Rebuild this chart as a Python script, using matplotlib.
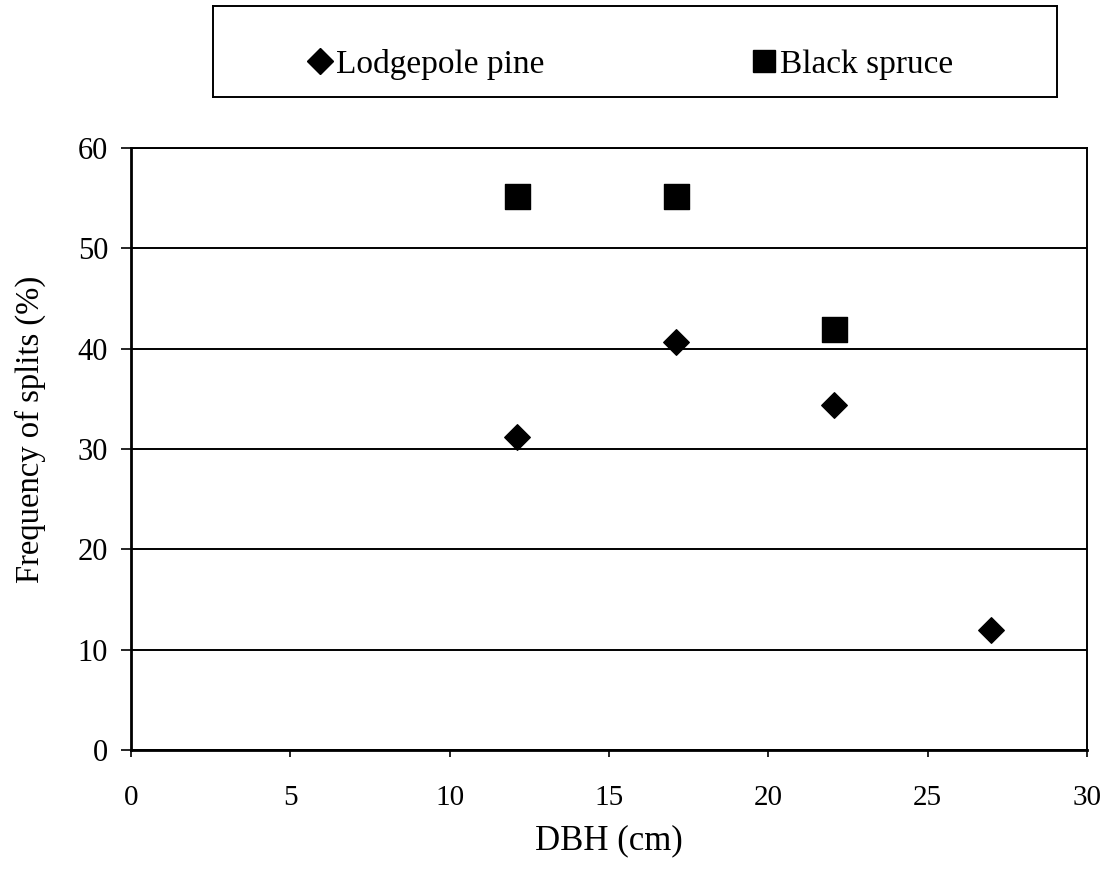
import matplotlib.pyplot as plt
from matplotlib.lines import Line2D

# values
pine_dbh = [12.1, 17.1, 22.05, 27.0]
pine_freq = [31.2, 40.7, 34.4, 12.0]
spruce_dbh = [12.1, 17.1, 22.05]
spruce_freq = [55.2, 55.2, 42.0]

x_ticks = [0, 5, 10, 15, 20, 25, 30]
y_ticks = [0, 10, 20, 30, 40, 50, 60]

plt.rcParams['font.family'] = ['Liberation Serif', 'DejaVu Serif']

fig = plt.figure(figsize=(11.13, 8.72), dpi=100)
ax = fig.add_axes([0.1177, 0.1399, 0.8589, 0.6904])

ax.scatter(pine_dbh, pine_freq, marker='D', s=13**2, color='black', zorder=3)
ax.scatter(spruce_dbh, spruce_freq, marker='s', s=18**2, color='black', zorder=3)

ax.set_xlim(0, 30)
ax.set_ylim(0, 60)
ax.set_xticks(x_ticks)
ax.set_yticks(y_ticks)
ax.yaxis.grid(True, color='black', linewidth=1.4)
ax.set_axisbelow(True)

for sp in ax.spines.values():
    sp.set_color('black')
    sp.set_linewidth(1.4)
ax.spines['left'].set_linewidth(2)
ax.spines['bottom'].set_linewidth(2)

ax.tick_params(axis='y', direction='out', length=7, width=1.2, pad=9.5, labelsize=22)
ax.tick_params(axis='x', direction='out', length=5, width=1.2, pad=20, labelsize=21)

ax.set_xlabel('DBH (cm)', fontsize=25, labelpad=10)
ax.set_ylabel('Frequency of splits (%)', fontsize=23.5, va='center', ha='center')
ax.yaxis.set_label_coords(-0.1056, 0.532)

# legend in its own box above the plot
ax_leg = fig.add_axes([0.1914, 0.8888, 0.7583, 0.1043])
ax_leg.set_xticks([])
ax_leg.set_yticks([])
for sp in ax_leg.spines.values():
    sp.set_color('black')
    sp.set_linewidth(1.4)

handles = [
    Line2D([], [], marker='D', linestyle='none', color='black', markersize=13),
    Line2D([], [], marker='s', linestyle='none', color='black', markersize=16.5),
]
ax_leg.legend(handles, ['Lodgepole pine', 'Black spruce'], ncol=2, loc='center',
              bbox_to_anchor=(0.496, 0.36), frameon=False, fontsize=24,
              handlelength=0.6, handletextpad=0.18, columnspacing=6.3,
              borderpad=0, borderaxespad=0)

fig.savefig('out.png', dpi=100)
